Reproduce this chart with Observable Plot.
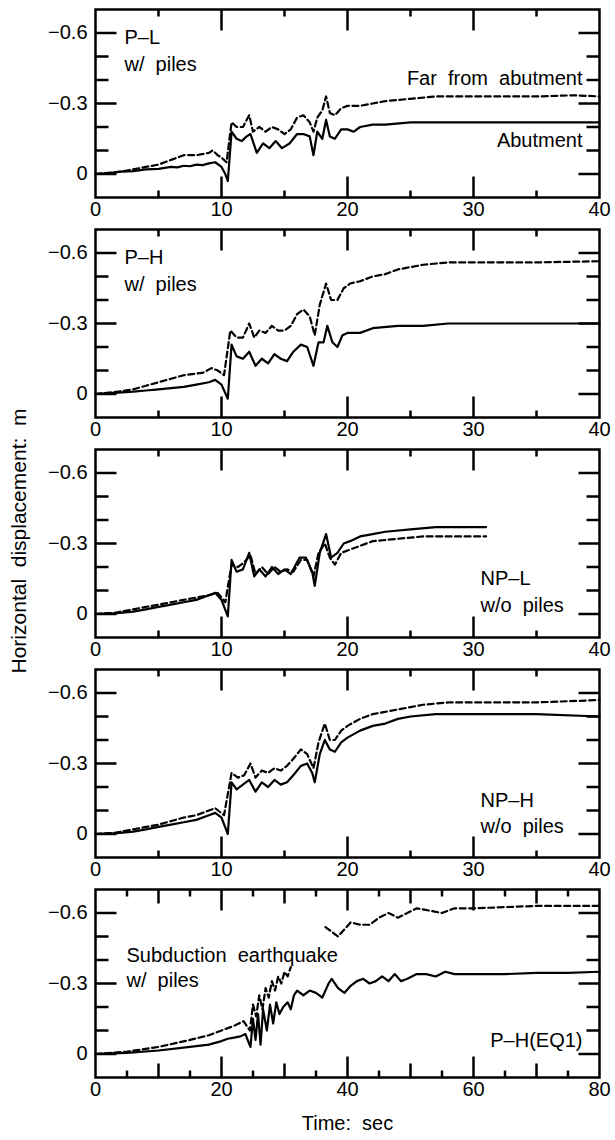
<!DOCTYPE html>
<html><head><meta charset="utf-8">
<script src="https://cdn.jsdelivr.net/npm/d3@7"></script>
<script src="https://cdn.jsdelivr.net/npm/@observablehq/plot@0.6"></script>
<style>
body{margin:0;background:#fff;}
#wrap{position:relative;width:615px;height:1140px;overflow:hidden;font-family:"Liberation Sans",Arial,sans-serif;color:#000;}
#ylab{position:absolute;left:19px;top:541px;transform:translate(-50%,-50%) rotate(-90deg);white-space:pre;font-size:21px;z-index:2;}
</style></head><body><div id="wrap"><div id="ylab">Horizontal  displacement:  m</div></div>
<script>
// ---------- data: [time (s), horizontal displacement (m)] ----------
const plAbutment = [[0,0],[1,-0.003],[2,-0.01],[3,-0.012],[4,-0.02],[5,-0.022],[6,-0.03],[6.5,-0.028],[7,-0.035],[7.5,-0.033],[8,-0.04],[8.5,-0.038],[9,-0.045],[9.5,-0.05],[10,-0.03],[10.3,0.0],[10.5,0.03],[10.8,-0.18],[11.2,-0.15],[11.6,-0.14],[12,-0.16],[12.3,-0.17],[12.8,-0.09],[13.3,-0.13],[13.8,-0.11],[14.3,-0.14],[14.8,-0.11],[15.4,-0.13],[16,-0.17],[16.5,-0.17],[17,-0.16],[17.3,-0.08],[17.6,-0.18],[18,-0.15],[18.3,-0.23],[18.6,-0.16],[19,-0.15],[19.5,-0.19],[20,-0.19],[20.5,-0.18],[21,-0.2],[22,-0.21],[23,-0.21],[25,-0.22],[30,-0.22],[35,-0.22],[40,-0.22]];
const plFar = [[0,0],[1,-0.005],[2,-0.01],[3,-0.02],[4,-0.03],[5,-0.04],[6,-0.06],[7,-0.08],[8,-0.08],[9,-0.09],[9.3,-0.1],[9.7,-0.08],[10,-0.07],[10.4,-0.05],[10.8,-0.22],[11.2,-0.2],[11.7,-0.2],[12.2,-0.25],[12.5,-0.18],[13,-0.2],[13.5,-0.18],[14,-0.2],[14.5,-0.19],[15,-0.17],[15.5,-0.19],[16,-0.24],[16.5,-0.25],[17,-0.22],[17.3,-0.18],[17.6,-0.24],[18,-0.27],[18.3,-0.33],[18.6,-0.26],[19,-0.25],[19.5,-0.28],[20,-0.29],[21,-0.29],[22,-0.3],[23,-0.31],[25,-0.32],[27,-0.33],[30,-0.33],[35,-0.33],[38,-0.335],[40,-0.33]];

const phAbutment = [[0,0],[1.5,-0.005],[3,-0.01],[4,-0.015],[5,-0.02],[6,-0.025],[7,-0.03],[8,-0.04],[9,-0.05],[9.5,-0.06],[10,-0.04],[10.5,0.02],[10.8,-0.21],[11.2,-0.16],[11.7,-0.15],[12.2,-0.18],[12.7,-0.12],[13.2,-0.15],[13.7,-0.13],[14.2,-0.17],[14.7,-0.15],[15.2,-0.14],[15.7,-0.18],[16.3,-0.21],[16.8,-0.2],[17.3,-0.12],[17.7,-0.22],[18.1,-0.22],[18.4,-0.29],[18.8,-0.22],[19.2,-0.2],[19.6,-0.25],[20,-0.26],[21,-0.26],[22,-0.28],[24,-0.29],[26,-0.29],[28,-0.3],[30,-0.3],[35,-0.3],[40,-0.3]];
const phFar = [[0,0],[1.5,-0.008],[3,-0.02],[4,-0.035],[5,-0.05],[6,-0.065],[7,-0.08],[8.5,-0.09],[9.2,-0.11],[9.7,-0.1],[10.2,-0.08],[10.7,-0.27],[11.2,-0.24],[11.7,-0.24],[12.2,-0.3],[12.6,-0.24],[13,-0.27],[13.5,-0.26],[14,-0.29],[14.5,-0.27],[15,-0.27],[15.5,-0.29],[16,-0.34],[16.5,-0.36],[17,-0.33],[17.4,-0.25],[17.8,-0.38],[18.3,-0.47],[18.7,-0.4],[19.2,-0.4],[19.7,-0.45],[20.2,-0.47],[21,-0.48],[22,-0.5],[23,-0.51],[24,-0.53],[25,-0.54],[26,-0.55],[28,-0.56],[30,-0.56],[35,-0.56],[40,-0.565]];

const nplAbutment = [[0,0],[1.5,-0.003],[3,-0.01],[4,-0.02],[5,-0.03],[6,-0.04],[7,-0.05],[8,-0.06],[9,-0.08],[9.5,-0.09],[10,-0.06],[10.5,0.01],[10.8,-0.23],[11.2,-0.18],[11.7,-0.19],[12.2,-0.26],[12.6,-0.16],[13,-0.19],[13.5,-0.16],[14,-0.2],[14.5,-0.17],[15,-0.19],[15.5,-0.17],[16.2,-0.24],[16.7,-0.24],[17.2,-0.18],[17.4,-0.12],[17.8,-0.26],[18.3,-0.34],[18.7,-0.24],[19.2,-0.26],[19.7,-0.3],[20.2,-0.31],[21,-0.33],[22,-0.34],[23,-0.35],[25,-0.36],[27,-0.37],[29,-0.37],[31,-0.37]];
const nplFar = [[0,0],[1.5,-0.005],[3,-0.02],[4,-0.03],[5,-0.04],[6,-0.05],[7,-0.06],[8,-0.07],[9,-0.08],[9.7,-0.09],[10.3,-0.05],[10.8,-0.21],[11.3,-0.2],[11.8,-0.22],[12.3,-0.25],[12.7,-0.17],[13.2,-0.2],[13.7,-0.17],[14.2,-0.2],[14.7,-0.18],[15.2,-0.19],[15.7,-0.18],[16.3,-0.23],[16.8,-0.23],[17.3,-0.16],[17.7,-0.26],[18.2,-0.3],[18.6,-0.24],[19,-0.21],[19.5,-0.26],[20,-0.27],[21,-0.29],[22,-0.31],[24,-0.32],[26,-0.33],[28,-0.33],[31,-0.33]];

const nphAbutment = [[0,0],[1.5,-0.003],[3,-0.01],[4,-0.02],[5,-0.03],[6,-0.04],[7,-0.05],[8,-0.06],[9,-0.08],[9.5,-0.09],[10,-0.07],[10.5,0.0],[10.8,-0.22],[11.2,-0.19],[11.7,-0.21],[12.2,-0.23],[12.7,-0.18],[13.2,-0.22],[13.7,-0.2],[14.2,-0.23],[14.7,-0.21],[15.2,-0.22],[15.7,-0.25],[16.3,-0.29],[16.8,-0.3],[17.2,-0.26],[17.4,-0.22],[17.8,-0.34],[18.2,-0.4],[18.6,-0.36],[19,-0.35],[19.5,-0.39],[20,-0.41],[21,-0.44],[22,-0.46],[23,-0.47],[24,-0.49],[25,-0.5],[27,-0.51],[30,-0.51],[35,-0.51],[40,-0.5]];
const nphFar = [[0,0],[1.5,-0.005],[3,-0.02],[4,-0.03],[5,-0.04],[6,-0.055],[7,-0.07],[8,-0.08],[9,-0.1],[9.5,-0.11],[10.2,-0.08],[10.8,-0.26],[11.3,-0.24],[11.8,-0.25],[12.3,-0.3],[12.7,-0.24],[13.2,-0.27],[13.7,-0.26],[14.2,-0.28],[14.7,-0.27],[15.2,-0.29],[15.7,-0.32],[16.3,-0.36],[16.8,-0.34],[17.3,-0.28],[17.7,-0.39],[18.2,-0.47],[18.6,-0.4],[19,-0.4],[19.5,-0.44],[20,-0.46],[21,-0.49],[22,-0.51],[23,-0.52],[24,-0.53],[26,-0.55],[28,-0.56],[30,-0.56],[35,-0.56],[40,-0.57]];

const eqAbutment = [[0,0],[5,-0.005],[10,-0.015],[15,-0.03],[18,-0.04],[20,-0.055],[21,-0.065],[22,-0.07],[23,-0.075],[23.8,-0.085],[24.3,-0.05],[24.6,-0.03],[25,-0.15],[25.4,-0.06],[25.8,-0.17],[26.2,-0.04],[26.6,-0.19],[27.2,-0.1],[27.7,-0.21],[28.2,-0.13],[28.7,-0.22],[29.2,-0.17],[29.8,-0.2],[30.5,-0.22],[31,-0.19],[31.5,-0.25],[32,-0.27],[33,-0.25],[34,-0.27],[35,-0.26],[36,-0.24],[37,-0.3],[37.5,-0.32],[38.5,-0.28],[39.5,-0.26],[40.5,-0.29],[41.5,-0.31],[42.5,-0.32],[43.5,-0.3],[44.5,-0.31],[45.5,-0.33],[46.5,-0.31],[47.5,-0.34],[48.5,-0.31],[49.5,-0.32],[51,-0.34],[52.5,-0.34],[54,-0.33],[55.5,-0.35],[57,-0.34],[60,-0.34],[65,-0.34],[70,-0.345],[75,-0.345],[80,-0.35]];
const eqFarEarly = [[0,0],[5,-0.01],[10,-0.03],[15,-0.06],[18,-0.08],[20,-0.1],[22,-0.12],[23.5,-0.14],[24,-0.12],[24.5,-0.1],[25,-0.21],[25.5,-0.16],[26,-0.25],[26.5,-0.19],[27,-0.28],[27.5,-0.24],[28,-0.31],[28.5,-0.27],[29,-0.33],[29.5,-0.3],[30,-0.35],[30.5,-0.33],[31,-0.37]];
const eqFarLate = [[36.5,-0.54],[37.5,-0.52],[38.5,-0.5],[39.5,-0.53],[40.5,-0.56],[42,-0.55],[43.5,-0.55],[45,-0.58],[46.5,-0.6],[48,-0.58],[49.5,-0.6],[51,-0.62],[53,-0.61],[55,-0.6],[57,-0.62],[60,-0.62],[65,-0.625],[70,-0.63],[75,-0.63],[80,-0.63]];

// ---------- axes ----------
const yMajor = [-0.6, -0.3, 0];
const yMinor = [-0.5, -0.4, -0.2, -0.1];
const xLabels40 = [0, 10, 20, 30, 40];
const xMajor40 = [10, 20, 30];
const xMinor40 = [5, 15, 25, 35];
const xLabels80 = [0, 20, 40, 60, 80];
const xMajor80 = [20, 40, 60];
const xMid80 = [10, 30, 50, 70];
const xMinor80 = [5, 15, 25, 35, 45, 55, 65, 75];

const FONT = "'Liberation Sans', Arial, sans-serif";
const SW = 2.5;
const W = 615, ML = 95, MR = 16, MT = 9, FH = 188;
const FW = W - ML - MR;
const Y_DOMAIN = [0.1, -0.7];

// inward tick stubs, built as short two-point line segments in data space from the tick values
function tickSegments(xDomain, xGroups, yGroups) {
  const [x0, x1] = xDomain, [yb, yt] = Y_DOMAIN;
  const kx = (x1 - x0) / FW, ky = (yb - yt) / FH;
  const segs = []; let id = 0;
  for (const [vals, len] of yGroups) for (const v of vals) {
    segs.push({id, x: x0, y: v}, {id, x: x0 + len * kx, y: v}); id++;
    segs.push({id, x: x1, y: v}, {id, x: x1 - len * kx, y: v}); id++;
  }
  for (const [vals, len] of xGroups) for (const v of vals) {
    segs.push({id, x: v, y: yb}, {id, x: v, y: yb - len * ky}); id++;
    segs.push({id, x: v, y: yt}, {id, x: v, y: yt + len * ky}); id++;
  }
  return segs;
}
function note(s, anchor, dx, dy, textAnchor) {
  return Plot.text([s], {text: d => d, frameAnchor: anchor, dx, dy, textAnchor, lineAnchor: "middle"});
}

function panel(cfg) {
  const height = cfg.height || 220;
  const xGroups = [[cfg.xMajor, 21], [cfg.xMinor, 7]];
  if (cfg.xMid) xGroups.push([cfg.xMid, 14]);
  const segs = tickSegments(cfg.xDomain, xGroups, [[yMajor, 21], [yMinor, 13]]);
  const marks = [];
  for (const d of cfg.dashed) marks.push(Plot.line(d, {x: p => p[0], y: p => p[1], stroke: "black", strokeWidth: 2.2, strokeDasharray: "6,3.5"}));
  marks.push(Plot.line(cfg.solid, {x: p => p[0], y: p => p[1], stroke: "black", strokeWidth: 2.2}));
  marks.push(Plot.line(segs, {x: "x", y: "y", z: "id", stroke: "black", strokeWidth: SW, strokeLinecap: "butt"}));
  marks.push(Plot.frame({stroke: "black", strokeWidth: SW}));
  marks.push(Plot.text(yMajor, {y: d => d, text: d => d === 0 ? "0" : "\u2212" + Math.abs(d), frameAnchor: "left", dx: -8, textAnchor: "end"}));
  marks.push(Plot.text(cfg.xLabels, {x: d => d, text: d => String(d), frameAnchor: "bottom", dy: 18}));
  marks.push(...cfg.notes);
  const svg = Plot.plot({
    width: W, height,
    marginLeft: ML, marginRight: MR, marginTop: MT, marginBottom: height - MT - FH,
    x: {domain: cfg.xDomain, axis: null},
    y: {domain: Y_DOMAIN, axis: null},
    style: {fontFamily: FONT, fontSize: "20px", whiteSpace: "pre", background: "white", color: "black"},
    marks
  });
  svg.style.display = "block";
  return svg;
}

const wrap = document.getElementById("wrap");
const configs = [
  {xDomain: [0, 40], xLabels: xLabels40, xMajor: xMajor40, xMinor: xMinor40,
    solid: plAbutment, dashed: [plFar],
    notes: [note("P\u2013L", "top-left", 29, 28, "start"), note("w/  piles", "top-left", 29, 55, "start"),
            note("Far  from  abutment", "top-right", -17, 69, "end"), note("Abutment", "top-right", -17, 131, "end")]},
  {xDomain: [0, 40], xLabels: xLabels40, xMajor: xMajor40, xMinor: xMinor40,
    solid: phAbutment, dashed: [phFar],
    notes: [note("P\u2013H", "top-left", 29, 28, "start"), note("w/  piles", "top-left", 29, 55, "start")]},
  {xDomain: [0, 40], xLabels: xLabels40, xMajor: xMajor40, xMinor: xMinor40,
    solid: nplAbutment, dashed: [nplFar],
    notes: [note("NP\u2013L", "top-right", -119, 129, "start"), note("w/o  piles", "top-right", -119, 156, "start")]},
  {xDomain: [0, 40], xLabels: xLabels40, xMajor: xMajor40, xMinor: xMinor40,
    solid: nphAbutment, dashed: [nphFar],
    notes: [note("NP\u2013H", "top-right", -119, 131, "start"), note("w/o  piles", "top-right", -119, 157, "start")]},
  {xDomain: [0, 80], xLabels: xLabels80, xMajor: xMajor80, xMid: xMid80, xMinor: xMinor80,
    solid: eqAbutment, dashed: [eqFarEarly, eqFarLate], height: 260,
    notes: [note("Subduction  earthquake", "top-left", 31, 66, "start"), note("w/  piles", "top-left", 31, 91, "start"),
            note("P\u2013H(EQ1)", "top-right", -17, 151, "end"),
            note("Time:  sec", "bottom", 0, 46, "middle")]}
];
for (const c of configs) wrap.appendChild(panel(c));
</script></body></html>
